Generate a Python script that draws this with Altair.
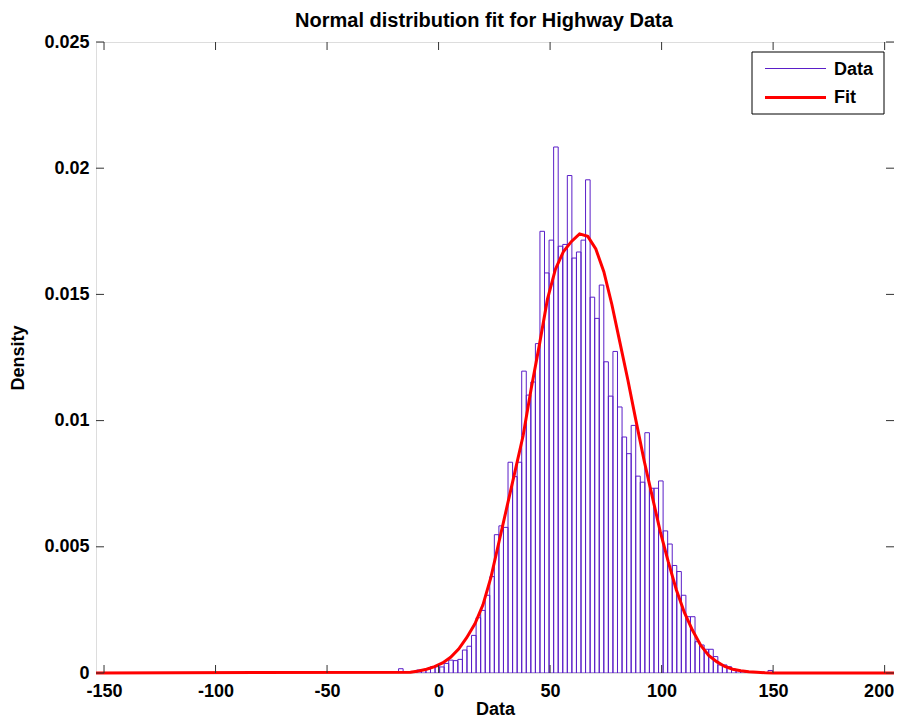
import altair as alt
import pandas as pd

# ---------------- data ----------------
x_ticks = [-150, -100, -50, 0, 50, 100, 150, 200]
y_ticks = [0, 0.005, 0.01, 0.015, 0.02, 0.025]
x_domain = [-153.6, 204.2]
y_domain = [0, 0.025]

bin_first_left = -17.94
bin_width = 2.045
density = [
    0.00017, 0.00005, 0.00005, 0.00005, 0.00012, 0.0001, 0.00015, 0.00025, 0.00025,
    0.00024, 0.00038, 0.00051, 0.00049, 0.00054, 0.00091, 0.00106, 0.00149, 0.00219,
    0.00248, 0.00308, 0.00382, 0.00548, 0.00583, 0.00577, 0.00835, 0.00778, 0.00835,
    0.01196, 0.01101, 0.01153, 0.01305, 0.01750, 0.01585, 0.01715, 0.02084, 0.01691,
    0.01698, 0.01971, 0.01644, 0.01668, 0.01715, 0.01954, 0.01489, 0.01405, 0.01537,
    0.01233, 0.01097, 0.01274, 0.01054, 0.00935, 0.00869, 0.00981, 0.00780, 0.00756,
    0.00952, 0.00732, 0.00732, 0.00761, 0.00563, 0.00511, 0.00426, 0.00402,
    0.00308, 0.00223, 0.00223, 0.00124, 0.00111, 0.00094, 0.00094, 0.00065, 0.00032,
    0.00032, 0.00025, 0.00015, 0.0001, 0.00008, 0.00005, 0.00005, 0.00003, 0.00003,
    0.00002, 0.0001,
]

fit_x = [-153.6, -12.6, -9.0, -5.4, -1.8, 1.8, 5.4, 9.0, 12.6, 16.3, 19.9, 23.5, 27.1,
         30.7, 34.3, 37.9, 41.6, 45.2, 48.8, 52.4, 56.0, 59.6, 63.2, 66.9, 70.5, 74.1,
         77.7, 81.3, 84.9, 88.5, 92.2, 95.8, 99.4, 103.0, 106.6, 110.2, 113.8, 117.5,
         121.1, 124.7, 128.3, 131.9, 135.5, 139.1, 142.8, 146.4, 150.0, 204.2]
fit_y = [0, 0.00003, 0.00008, 0.00015, 0.00025, 0.0004, 0.00062, 0.00095, 0.0014,
         0.00195, 0.0027, 0.0038, 0.0052, 0.0066, 0.0080, 0.0094, 0.0113, 0.0130,
         0.0148, 0.0160, 0.0167, 0.0171, 0.0174, 0.0173, 0.0168, 0.0159, 0.0146,
         0.0131, 0.0116, 0.0100, 0.0084, 0.0070, 0.0056, 0.0044, 0.0033, 0.0024,
         0.0017, 0.0011, 0.0007, 0.00045, 0.00026, 0.00015, 0.00009, 0.00005,
         0.00003, 0.00001, 0, 0]

legend_labels = ["Data", "Fit"]
title_text = ["Normal distribution fit for Highway Data"]
x_title = "Data"
y_title = "Density"

# ---------------- styling ----------------
W, H = 798, 631
PURPLE = "#5a1ec8"
RED = "#ff0000"
FONT = "Liberation Sans"
FS = 18

bars_df = pd.DataFrame({
    "left": [bin_first_left + i * bin_width for i in range(len(density))],
    "density": density,
})
bars_df["right"] = bars_df["left"] + bin_width
fit_df = pd.DataFrame({"x": fit_x, "y": fit_y})
xt_df = pd.DataFrame({"t": x_ticks})
yt_df = pd.DataFrame({"t": y_ticks})

xscale = alt.Scale(domain=x_domain, nice=False, zero=False)
yscale = alt.Scale(domain=y_domain, nice=False, zero=True)

x_axis = alt.Axis(values=x_ticks, labelExpr="'' + datum.value", grid=False, domain=False,
                  ticks=False, labelPadding=9, labelFont=FONT, labelFontSize=FS,
                  labelFontWeight="bold", labelColor="black", title=x_title,
                  labelOffset={"condition": {"test": "datum.value === 200", "value": -6},
                               "value": 0},
                  titleFont=FONT, titleFontSize=FS, titleFontWeight="bold",
                  titleColor="black", titleX=W / 2, titleY=36, titleBaseline="middle",
                  labelFlush=False, labelOverlap=False)
y_axis = alt.Axis(values=y_ticks, labelExpr="'' + datum.value", grid=False, domain=False,
                  ticks=False, labelPadding=7, labelFont=FONT, labelFontSize=FS,
                  labelFontWeight="bold", labelColor="black", title=y_title,
                  titleFont=FONT, titleFontSize=FS, titleFontWeight="bold",
                  titleColor="black", titleX=-78, titleY=H / 2, titleAngle=270,
                  titleBaseline="middle", titleAlign="center",
                  labelFlush=False, labelOverlap=False)

bars = alt.Chart(bars_df).mark_bar(
    fill="white", fillOpacity=0, stroke=PURPLE, strokeWidth=1, clip=True
).encode(
    x=alt.X("left:Q", scale=xscale, axis=x_axis),
    x2="right:Q",
    y=alt.Y("density:Q", scale=yscale, axis=y_axis),
    y2=alt.datum(0),
)

fit = alt.Chart(fit_df).mark_line(color=RED, strokeWidth=3, clip=False).encode(
    x=alt.X("x:Q", scale=xscale),
    y=alt.Y("y:Q", scale=yscale),
)

TICK = 8
tick_col = "#333333"
xt_bottom = alt.Chart(xt_df).mark_rule(color=tick_col, strokeWidth=1).encode(
    x=alt.X("t:Q", scale=xscale), y=alt.value(H - TICK), y2=alt.value(H))
xt_top = alt.Chart(xt_df).mark_rule(color=tick_col, strokeWidth=1).encode(
    x=alt.X("t:Q", scale=xscale), y=alt.value(0), y2=alt.value(TICK))
yt_left = alt.Chart(yt_df).mark_rule(color=tick_col, strokeWidth=1).encode(
    y=alt.Y("t:Q", scale=yscale), x=alt.value(0), x2=alt.value(TICK))
yt_right = alt.Chart(yt_df).mark_rule(color=tick_col, strokeWidth=1).encode(
    y=alt.Y("t:Q", scale=yscale), x=alt.value(W - TICK), x2=alt.value(W))

one = pd.DataFrame({"k": [0]})
leg_box = alt.Chart(one).mark_rect(fill="white", stroke="black", strokeWidth=1).encode(
    x=alt.value(656), x2=alt.value(788), y=alt.value(10), y2=alt.value(72))
leg_data_line = alt.Chart(one).mark_rule(color=PURPLE, strokeWidth=1).encode(
    x=alt.value(669), x2=alt.value(730), y=alt.value(26.5))
leg_fit_line = alt.Chart(one).mark_rule(color=RED, strokeWidth=3).encode(
    x=alt.value(669), x2=alt.value(730), y=alt.value(55.5))
leg_data_text = alt.Chart(pd.DataFrame({"label": [legend_labels[0]]})).mark_text(
    align="left", baseline="middle", font=FONT, fontSize=FS, fontWeight="bold",
    color="black").encode(text="label:N", x=alt.value(738), y=alt.value(28))
leg_fit_text = alt.Chart(pd.DataFrame({"label": [legend_labels[1]]})).mark_text(
    align="left", baseline="middle", font=FONT, fontSize=FS, fontWeight="bold",
    color="black").encode(text="label:N", x=alt.value(738), y=alt.value(56))

title_mark = alt.Chart(pd.DataFrame({"label": title_text})).mark_text(
    align="center", baseline="alphabetic", font=FONT, fontSize=20, fontWeight="bold",
    color="black").encode(text="label:N", x=alt.value(388), y=alt.value(-15))

chart = alt.layer(
    bars, fit, xt_bottom, xt_top, yt_left, yt_right,
    leg_box, leg_data_line, leg_fit_line, leg_data_text, leg_fit_text, title_mark,
).properties(
    width=W, height=H,
    autosize=alt.AutoSizeParams(type="none"),
    padding={"left": 88, "top": 34, "right": 0, "bottom": 46},
).configure_view(
    stroke="black", strokeWidth=1
).configure(background="white")

chart.save("out.html", embed_options={"renderer": "svg", "actions": False})
